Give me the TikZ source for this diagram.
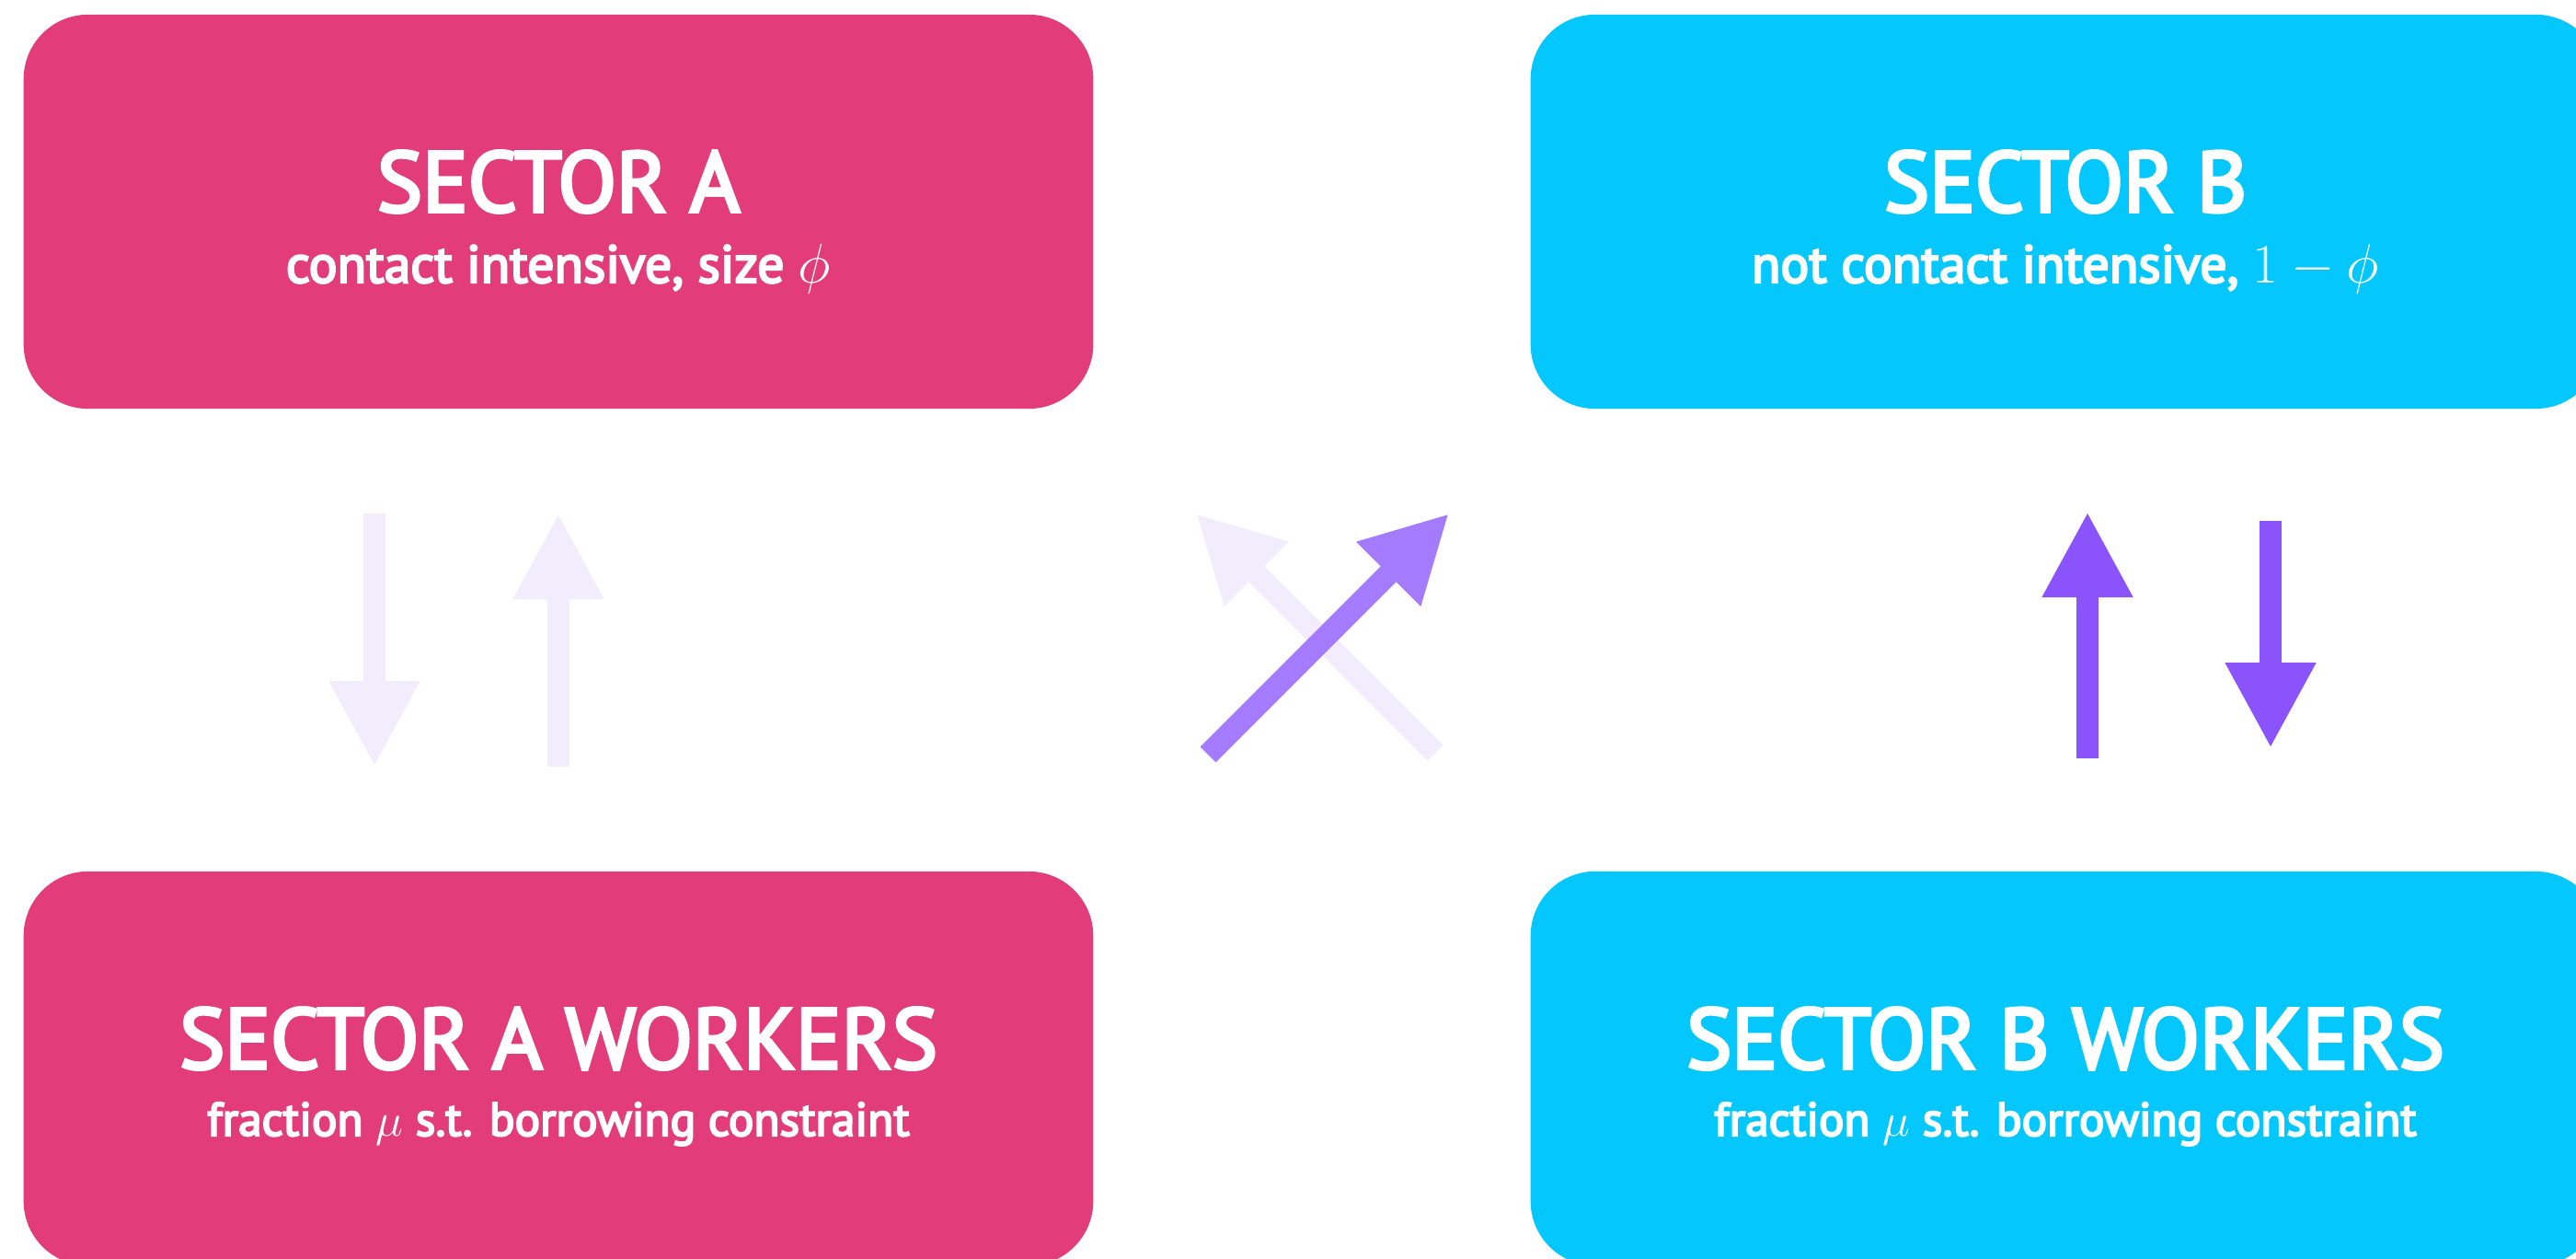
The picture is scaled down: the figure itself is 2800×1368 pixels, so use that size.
\documentclass[tikz,border=0pt]{standalone}
\usepackage[no-math]{fontspec}
\setmainfont{PT Sans}
\newfontfamily\medfont[FakeBold = 4]{PT Sans}
\usetikzlibrary{arrows.meta}

\definecolor{secpink}{HTML}{E33C7A}
\definecolor{seccyan}{HTML}{04C8FD}
\definecolor{flowfaint}{HTML}{F3ECFC}
\definecolor{flowmid}{HTML}{A47BFD}
\definecolor{flowstrong}{HTML}{8A53FC}

\begin{document}
\begin{tikzpicture}[x = 0.01cm, y = -0.01cm, > = {Triangle[width = 0.92cm, length = 0.93cm]}, every node/.style = {text = white}]

	% Definition

	\def\W{11.62cm}		% Width of a sector box
	\def\H{4.28cm}		% Height of a sector box

	% The picture is laid out in pixels of the slide, y grows down the page.

	\clip (0, 0) rectangle (2800, 1368);

	\tikzset{
		sector/.style = {rounded corners = 0.7cm, minimum width = \W, minimum height = \H},
		title/.style = {anchor = base, font = \fontsize{26.4}{30}\selectfont\medfont},
		sub/.style = {anchor = base, font = \fontsize{16.4}{19}\selectfont\medfont},
		subsmall/.style = {anchor = base, font = \fontsize{14.6}{17}\selectfont\medfont},
		flow/.style = {->, line width = 0.24cm, line cap = butt}
	}

	% Sectors and their workers

	\node (secA) [sector, fill = secpink] at (607, 230) {};
	\node (secB) [sector, fill = seccyan] at (2245, 230) {};
	\node (wrkA) [sector, fill = secpink] at (607, 1161) {};
	\node (wrkB) [sector, fill = seccyan] at (2245, 1161) {};

	\node (secAtitle) [title] at (secA.center) {SECTOR A};
	\node (secAsub) [sub] at ([yshift = -0.77cm] secA.center) {contact intensive, size $\phi$};
	\node (secBtitle) [title] at (secB.center) {SECTOR B};
	\node (secBsub) [sub] at ([yshift = -0.77cm] secB.center) {not contact intensive, $1 - \phi$};
	\node (wrkAtitle) [title] at (wrkA.center) {SECTOR A WORKERS};
	\node (wrkAsub) [subsmall] at ([yshift = -0.73cm] wrkA.center) {fraction $\mu$ s.t. borrowing constraint};
	\node (wrkBtitle) [title] at (wrkB.center) {SECTOR B WORKERS};
	\node (wrkBsub) [subsmall] at ([yshift = -0.73cm] wrkB.center) {fraction $\mu$ s.t. borrowing constraint};

	% Flows between the boxes

	\coordinate (a1s) at (407, 558);
	\coordinate (a1e) at (407, 833);
	\coordinate (a2s) at (607, 833);
	\coordinate (a2e) at (607, 558);
	\coordinate (c1s) at (1560, 818);
	\coordinate (c1e) at (1300, 558);
	\coordinate (c2s) at (1313, 820);
	\coordinate (c2e) at (1575, 558);
	\coordinate (b1s) at (2269, 824);
	\coordinate (b1e) at (2269, 556);
	\coordinate (b2s) at (2468, 566);
	\coordinate (b2e) at (2468, 813);

	\begin{scope}[flow]

		\draw [flowfaint] (a1s) -- (a1e);
		\draw [flowfaint] (a2s) -- (a2e);

		\draw [flowfaint] (c1s) -- (c1e);
		\draw [flowmid] (c2s) -- (c2e);

		\draw [flowstrong] (b1s) -- (b1e);
		\draw [flowstrong] (b2s) -- (b2e);

	\end{scope}

\end{tikzpicture}
\end{document}
